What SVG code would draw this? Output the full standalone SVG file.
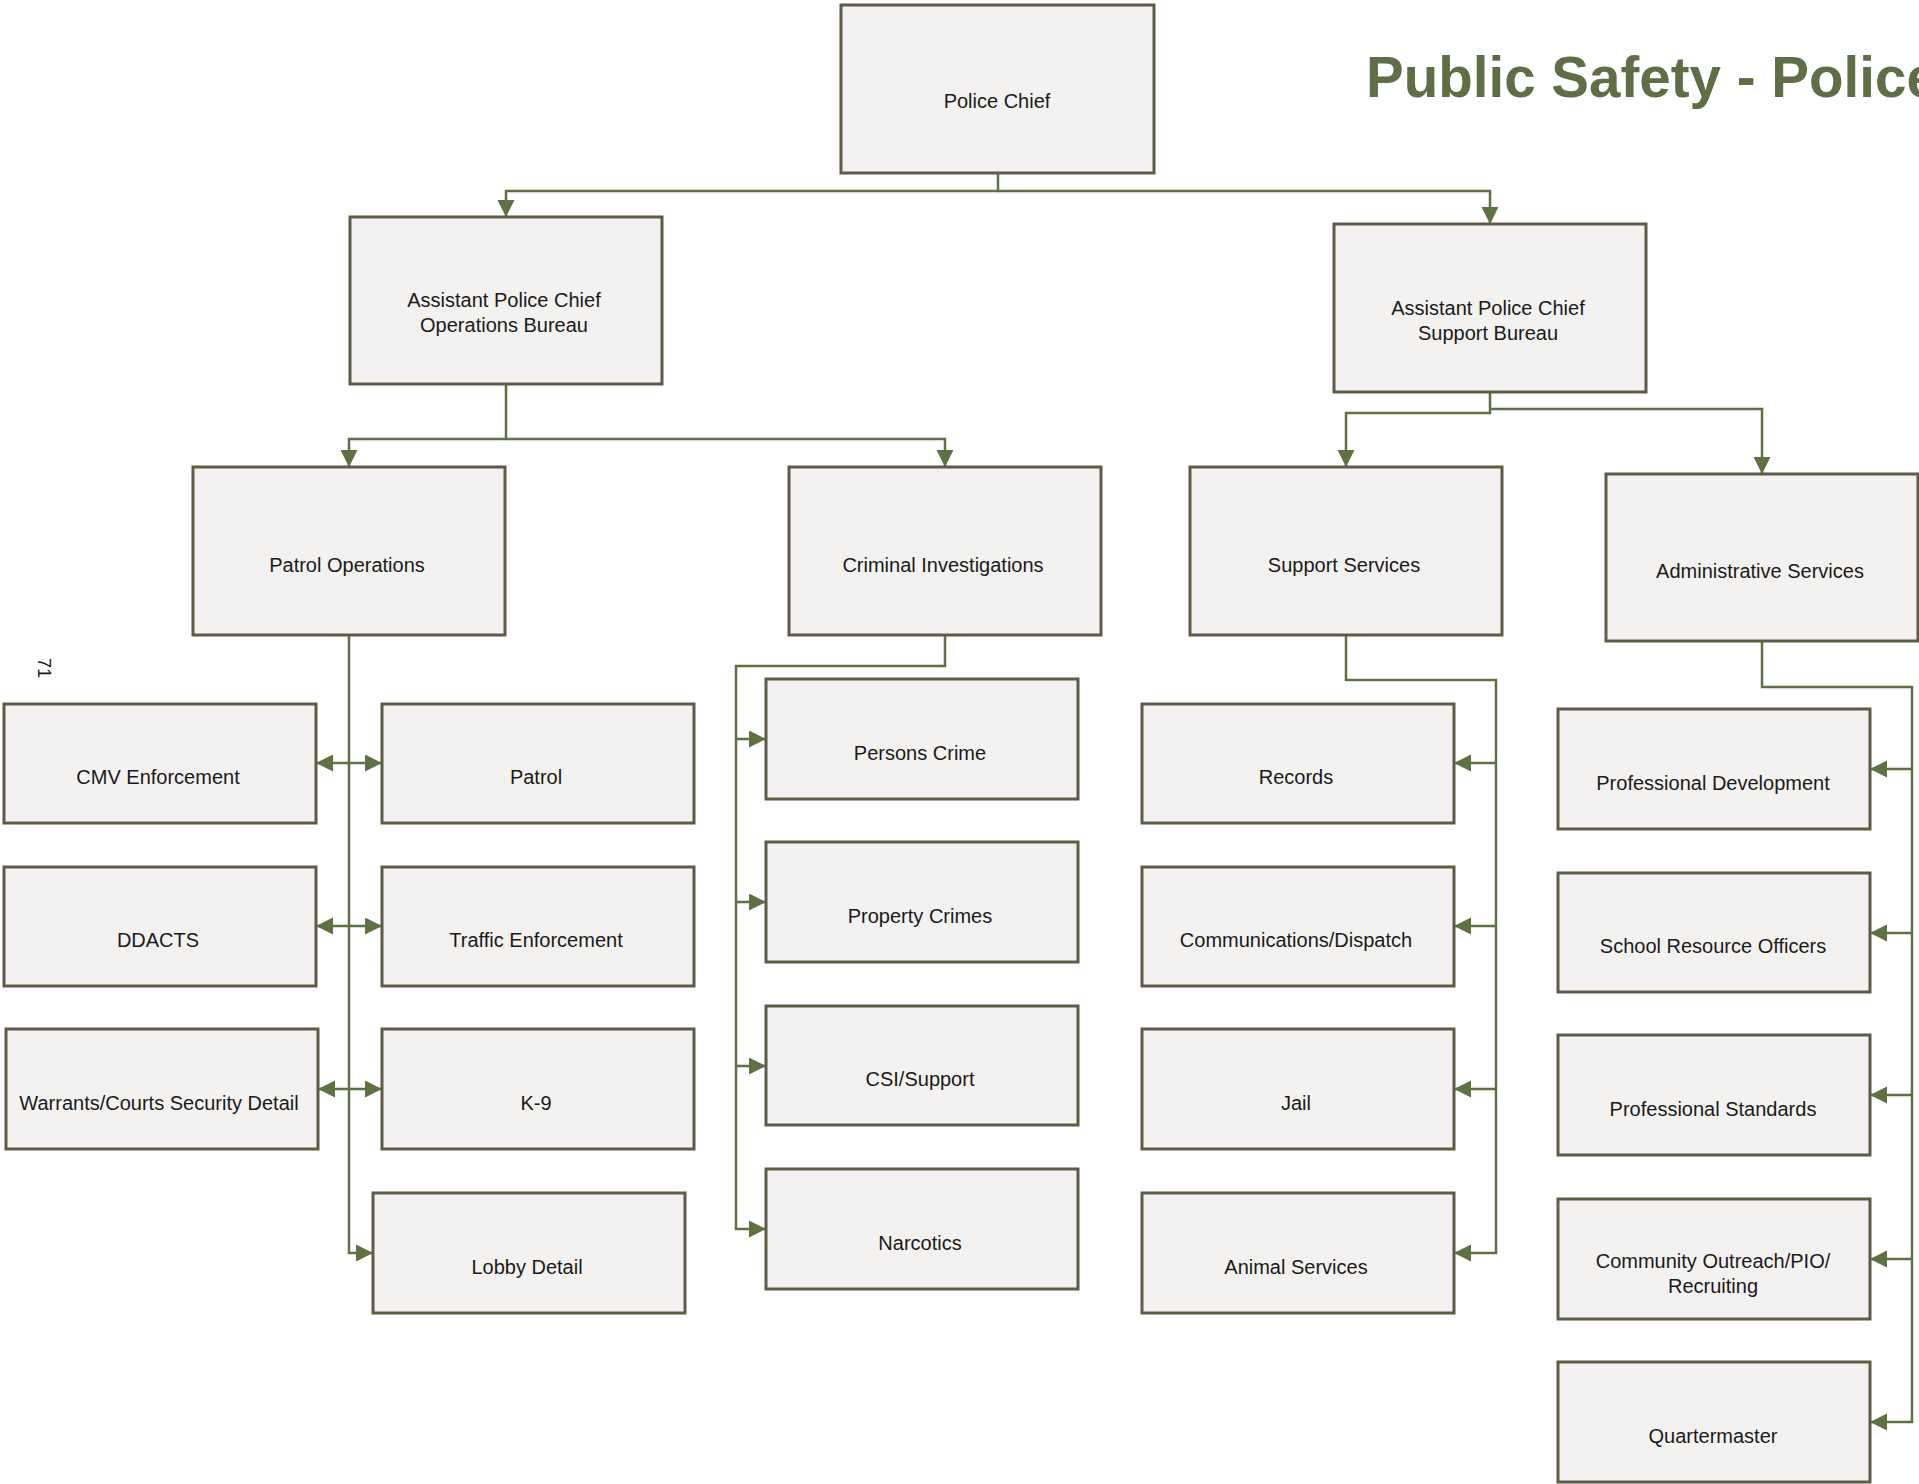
<svg xmlns="http://www.w3.org/2000/svg" width="1919" height="1484" viewBox="0 0 1919 1484">
<style>
.box{fill:#F3F2F0;stroke:#5F5B46;stroke-width:3}
.lbl{font-family:"Liberation Sans",Arial,sans-serif;font-size:20px;fill:#1A1A1A;text-anchor:middle}
.con{fill:none;stroke:#5E7044;stroke-width:2.5}
.title{font-family:"Liberation Sans",Arial,sans-serif;font-weight:bold;font-size:58px;fill:#5F6E46}
.pg{font-family:"Liberation Sans",Arial,sans-serif;font-size:18px;fill:#1A1A1A}
</style>
<defs>
<marker id="arr" markerUnits="userSpaceOnUse" markerWidth="18" markerHeight="18" refX="17" refY="8.5" orient="auto-start-reverse" viewBox="0 0 18 18">
<path d="M0,0 L17,8.5 L0,17 z" fill="#5E7044"/>
</marker>
</defs>
<rect width="1919" height="1484" fill="#FFFFFF"/>
<text class="title" transform="translate(1366,97) scale(0.975,1)">Public Safety - Police</text>
<text class="pg" transform="translate(38,658) rotate(90)">71</text>

<g id="connectors">
<path class="con" d="M998,173 V191 H506 V217" marker-end="url(#arr)"/>
<path class="con" d="M998,191 H1490 V224" marker-end="url(#arr)"/>
<path class="con" d="M506,384 V439 H349 V467" marker-end="url(#arr)"/>
<path class="con" d="M506,439 H945 V467" marker-end="url(#arr)"/>
<path class="con" d="M1490,392 V413 H1346 V467" marker-end="url(#arr)"/>
<path class="con" d="M1490,409 H1762 V474" marker-end="url(#arr)"/>
<path class="con" d="M349,635 V1253 H373" marker-end="url(#arr)"/>
<path class="con" d="M316,763 H382" marker-start="url(#arr)" marker-end="url(#arr)"/>
<path class="con" d="M316,926 H382" marker-start="url(#arr)" marker-end="url(#arr)"/>
<path class="con" d="M318,1089 H382" marker-start="url(#arr)" marker-end="url(#arr)"/>
<path class="con" d="M945,635 V666 H736 V1229 H766" marker-end="url(#arr)"/>
<path class="con" d="M736,739 H766" marker-end="url(#arr)"/>
<path class="con" d="M736,902 H766" marker-end="url(#arr)"/>
<path class="con" d="M736,1066 H766" marker-end="url(#arr)"/>
<path class="con" d="M1346,635 V680 H1496 V1253 H1454" marker-end="url(#arr)"/>
<path class="con" d="M1496,763 H1454" marker-end="url(#arr)"/>
<path class="con" d="M1496,926 H1454" marker-end="url(#arr)"/>
<path class="con" d="M1496,1089 H1454" marker-end="url(#arr)"/>
<path class="con" d="M1762,641 V687 H1912 V1422 H1870" marker-end="url(#arr)"/>
<path class="con" d="M1912,769 H1870" marker-end="url(#arr)"/>
<path class="con" d="M1912,933 H1870" marker-end="url(#arr)"/>
<path class="con" d="M1912,1095 H1870" marker-end="url(#arr)"/>
<path class="con" d="M1912,1259 H1870" marker-end="url(#arr)"/>
</g>

<g id="police-chief"><rect class="box" x="841" y="5" width="313" height="168"/><text class="lbl" x="997" y="108">Police Chief</text></g>
<g id="asst-ops"><rect class="box" x="350" y="217" width="312" height="167"/><text class="lbl" x="504" y="307">Assistant Police Chief</text><text class="lbl" x="504" y="332">Operations Bureau</text></g>
<g id="asst-support"><rect class="box" x="1334" y="224" width="312" height="168"/><text class="lbl" x="1488" y="315">Assistant Police Chief</text><text class="lbl" x="1488" y="340">Support Bureau</text></g>
<g id="patrol-operations"><rect class="box" x="193" y="467" width="312" height="168"/><text class="lbl" x="347" y="572">Patrol Operations</text></g>
<g id="criminal-investigations"><rect class="box" x="789" y="467" width="312" height="168"/><text class="lbl" x="943" y="572">Criminal Investigations</text></g>
<g id="support-services"><rect class="box" x="1190" y="467" width="312" height="168"/><text class="lbl" x="1344" y="572">Support Services</text></g>
<g id="administrative-services"><rect class="box" x="1606" y="474" width="312" height="167"/><text class="lbl" x="1760" y="578">Administrative Services</text></g>

<g id="cmv-enforcement"><rect class="box" x="4" y="704" width="312" height="119"/><text class="lbl" x="158" y="784">CMV Enforcement</text></g>
<g id="patrol"><rect class="box" x="382" y="704" width="312" height="119"/><text class="lbl" x="536" y="784">Patrol</text></g>
<g id="ddacts"><rect class="box" x="4" y="867" width="312" height="119"/><text class="lbl" x="158" y="947">DDACTS</text></g>
<g id="traffic-enforcement"><rect class="box" x="382" y="867" width="312" height="119"/><text class="lbl" x="536" y="947">Traffic Enforcement</text></g>
<g id="warrants"><rect class="box" x="6" y="1029" width="312" height="120"/><text class="lbl" x="159" y="1110">Warrants/Courts Security Detail</text></g>
<g id="k9"><rect class="box" x="382" y="1029" width="312" height="120"/><text class="lbl" x="536" y="1110">K-9</text></g>
<g id="lobby-detail"><rect class="box" x="373" y="1193" width="312" height="120"/><text class="lbl" x="527" y="1274">Lobby Detail</text></g>

<g id="persons-crime"><rect class="box" x="766" y="679" width="312" height="120"/><text class="lbl" x="920" y="760">Persons Crime</text></g>
<g id="property-crimes"><rect class="box" x="766" y="842" width="312" height="120"/><text class="lbl" x="920" y="923">Property Crimes</text></g>
<g id="csi-support"><rect class="box" x="766" y="1006" width="312" height="119"/><text class="lbl" x="920" y="1086">CSI/Support</text></g>
<g id="narcotics"><rect class="box" x="766" y="1169" width="312" height="120"/><text class="lbl" x="920" y="1250">Narcotics</text></g>

<g id="records"><rect class="box" x="1142" y="704" width="312" height="119"/><text class="lbl" x="1296" y="784">Records</text></g>
<g id="communications"><rect class="box" x="1142" y="867" width="312" height="119"/><text class="lbl" x="1296" y="947">Communications/Dispatch</text></g>
<g id="jail"><rect class="box" x="1142" y="1029" width="312" height="120"/><text class="lbl" x="1296" y="1110">Jail</text></g>
<g id="animal-services"><rect class="box" x="1142" y="1193" width="312" height="120"/><text class="lbl" x="1296" y="1274">Animal Services</text></g>

<g id="professional-development"><rect class="box" x="1558" y="709" width="312" height="120"/><text class="lbl" x="1713" y="790">Professional Development</text></g>
<g id="school-resource-officers"><rect class="box" x="1558" y="873" width="312" height="119"/><text class="lbl" x="1713" y="953">School Resource Officers</text></g>
<g id="professional-standards"><rect class="box" x="1558" y="1035" width="312" height="120"/><text class="lbl" x="1713" y="1116">Professional Standards</text></g>
<g id="community-outreach"><rect class="box" x="1558" y="1199" width="312" height="120"/><text class="lbl" x="1713" y="1268">Community Outreach/PIO/</text><text class="lbl" x="1713" y="1293">Recruiting</text></g>
<g id="quartermaster"><rect class="box" x="1558" y="1362" width="312" height="120"/><text class="lbl" x="1713" y="1443">Quartermaster</text></g>
</svg>
